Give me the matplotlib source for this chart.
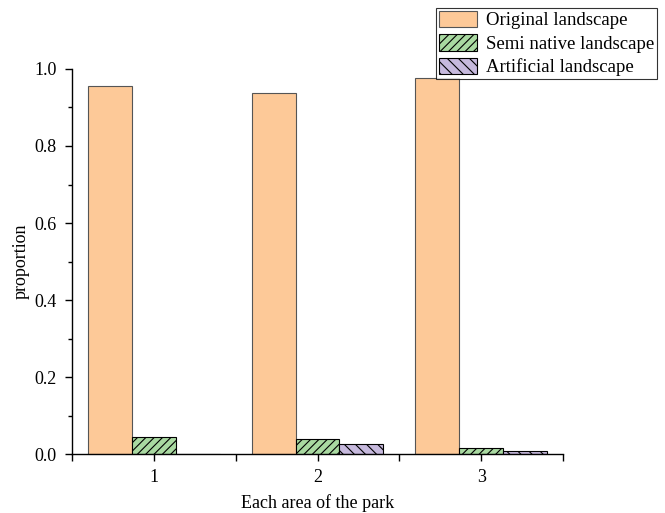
import matplotlib
matplotlib.use("Agg")
import numpy as np
import matplotlib.pyplot as plt
from matplotlib.ticker import MultipleLocator, FixedLocator

plt.rcParams["font.family"] = ["Liberation Serif", "DejaVu Serif"]
plt.rcParams["hatch.linewidth"] = 0.8

areas = ["1", "2", "3"]
original = [0.956, 0.937, 0.976]
semi_native = [0.045, 0.038, 0.016]
artificial = [0.001, 0.025, 0.008]

series = [
    ("Original landscape", original, "#FDC998", "#555555", ""),
    ("Semi native landscape", semi_native, "#A9D9A1", "black", "////"),
    ("Artificial landscape", artificial, "#C6B9DD", "black", "\\\\\\"),
]

fig = plt.figure(figsize=(6.65, 5.13), dpi=100)
ax = fig.add_axes([0.108, 0.115, 0.739, 0.7505])

x = np.arange(1, len(areas) + 1)
w = 0.268
for i, (label, vals, fc, ec, hatch) in enumerate(series):
    ax.bar(x + (i - 1) * w, vals, width=w, color=fc, edgecolor=ec,
           linewidth=0.8, hatch=hatch, label=label)

ax.set_xlim(0.5, 3.5)
ax.set_ylim(0, 1.0)
ax.set_xticks(x)
ax.set_xticklabels(areas)
ax.xaxis.set_minor_locator(FixedLocator([0.5, 1.5, 2.5, 3.5]))
ax.yaxis.set_major_locator(MultipleLocator(0.2))
ax.yaxis.set_minor_locator(MultipleLocator(0.1))
ax.yaxis.set_major_formatter(plt.FormatStrFormatter("%.1f"))

for side in ["top", "right"]:
    ax.spines[side].set_visible(False)
for side in ["left", "bottom"]:
    ax.spines[side].set_linewidth(1.0)

ax.tick_params(axis="both", which="major", direction="out", length=5,
               width=1.0, labelsize=13, pad=6)
ax.tick_params(axis="y", which="minor", direction="out", length=3, width=1.0)
ax.tick_params(axis="x", which="minor", direction="out", length=5, width=1.0)

ax.set_xlabel("Each area of the park", fontsize=13, labelpad=6)
ax.set_ylabel("proportion", fontsize=13, labelpad=3)

leg = ax.legend(loc="upper right", bbox_to_anchor=(0.988, 0.985),
                bbox_transform=fig.transFigure, fontsize=13.5, frameon=True,
                fancybox=False, edgecolor="black", borderpad=0.15,
                labelspacing=0.25, handlelength=2.0, handleheight=1.0,
                handletextpad=0.5, borderaxespad=0)
leg.get_frame().set_linewidth(0.8)

fig.savefig("out.png", dpi=100)
